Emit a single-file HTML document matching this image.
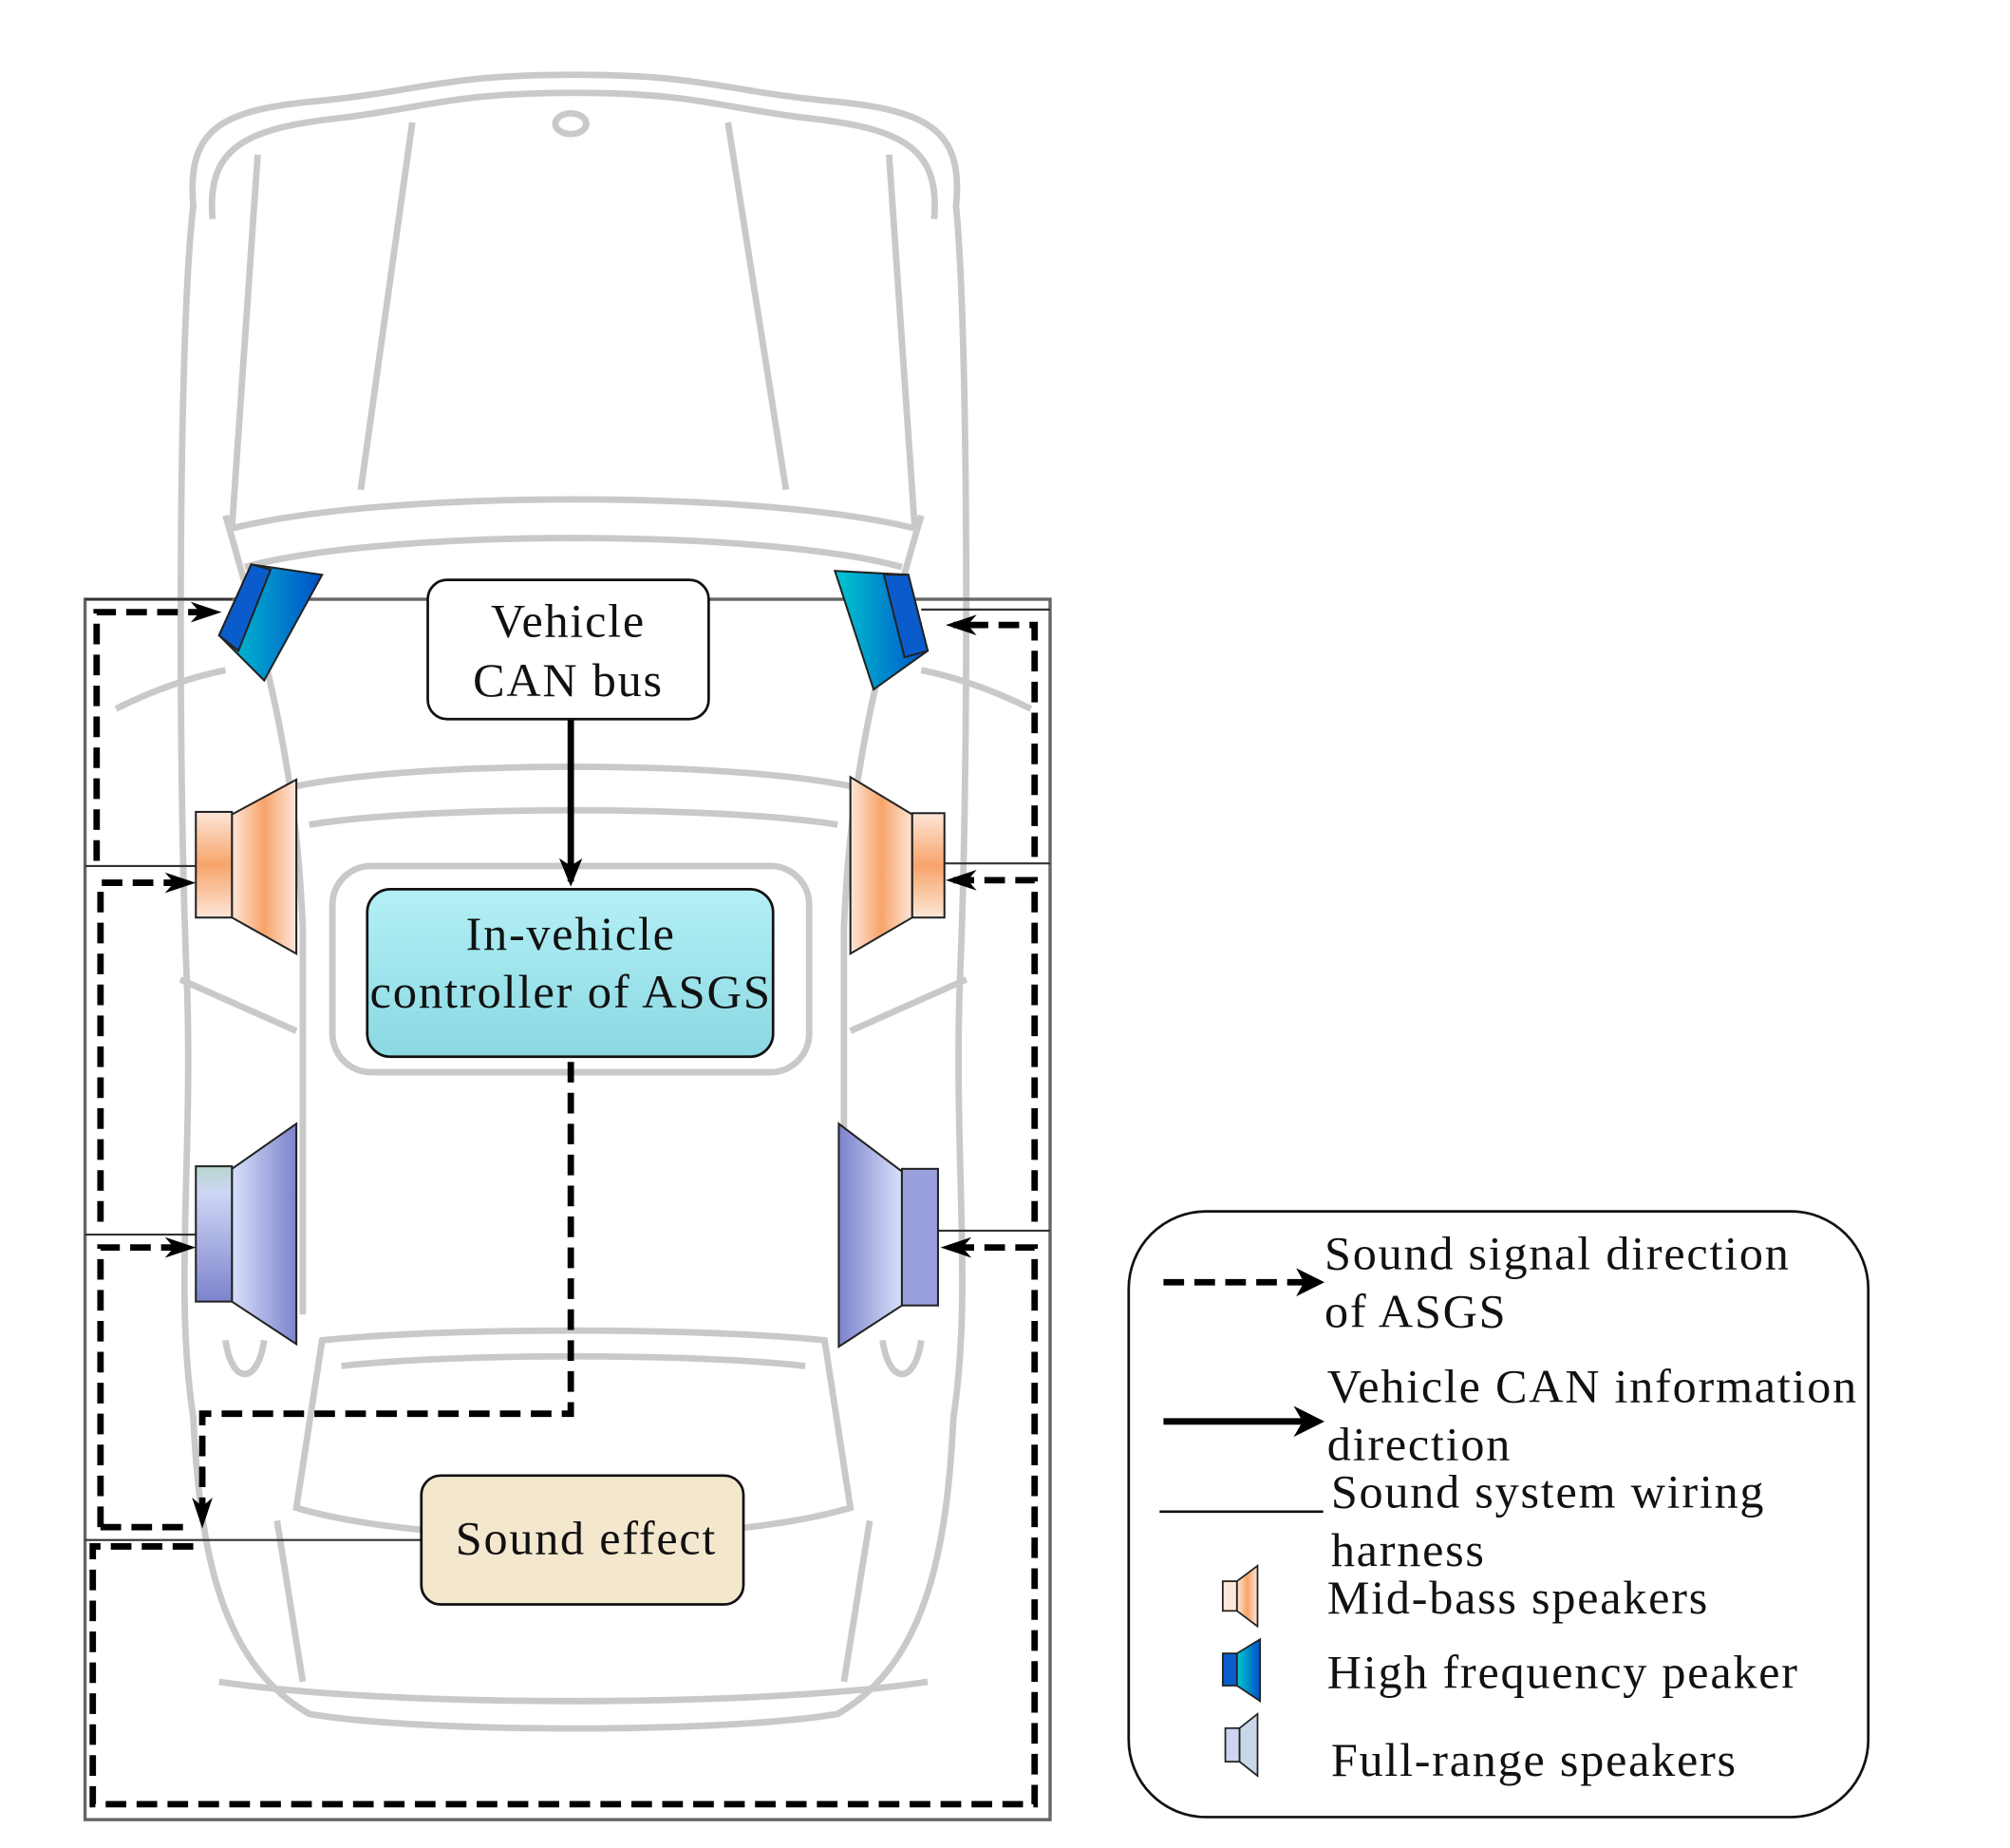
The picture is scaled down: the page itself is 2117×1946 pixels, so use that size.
<!DOCTYPE html>
<html><head><meta charset="utf-8"><style>
html,body{margin:0;padding:0;background:#fff;}
svg{display:block;}
text{font-family:"Liberation Serif",serif;fill:#111;letter-spacing:1.3px;}
</style></head><body>
<svg width="2117" height="1946" viewBox="0 0 1560 1434" xmlns="http://www.w3.org/2000/svg">
<defs>
<marker id="ah" markerWidth="24" markerHeight="18" refX="18" refY="9" orient="auto" markerUnits="userSpaceOnUse"><path d="M0,1 L24,9 L0,17 L7,9 Z" fill="#000"/></marker>
<marker id="ab" markerWidth="22" markerHeight="22" refX="18" refY="11" orient="auto" markerUnits="userSpaceOnUse"><path d="M0,2 L22,11 L0,20 L6,11 Z" fill="#000"/></marker>
<linearGradient id="org" x1="0" x2="1"><stop offset="0" stop-color="#fde6d8"/><stop offset="0.5" stop-color="#f7a46a"/><stop offset="1" stop-color="#fde6d8"/></linearGradient>
<linearGradient id="orgv" x1="0" y1="0" x2="0" y2="1"><stop offset="0" stop-color="#fde6d8"/><stop offset="0.5" stop-color="#f7a46a"/><stop offset="1" stop-color="#fde6d8"/></linearGradient>
<linearGradient id="blu" x1="0" x2="1"><stop offset="0" stop-color="#d8e0fb"/><stop offset="1" stop-color="#7d83cc"/></linearGradient>
<linearGradient id="blur" x1="1" x2="0"><stop offset="0" stop-color="#d8e0fb"/><stop offset="1" stop-color="#7d83cc"/></linearGradient>
<linearGradient id="bluv" x1="0" y1="0" x2="0" y2="1"><stop offset="0" stop-color="#b8d6cc"/><stop offset="0.2" stop-color="#cdd6f5"/><stop offset="1" stop-color="#7d83cc"/></linearGradient>
<linearGradient id="hf" x1="0" x2="1"><stop offset="0" stop-color="#00c8d0"/><stop offset="1" stop-color="#0050c8"/></linearGradient>
<linearGradient id="ctl" x1="0" y1="0" x2="0" y2="1"><stop offset="0" stop-color="#b4f0f6"/><stop offset="1" stop-color="#8ad8e2"/></linearGradient>
</defs>

<g fill="none" stroke="#c9c9c9" stroke-width="5">
<path d="M150,160 C145,100 170,85 250,78 C330,70 345,58 445,58 C545,58 560,70 640,78 C720,85 748,100 742,160 C752,260 752,600 745,760 C740,900 755,1000 740,1100 C735,1200 720,1290 650,1330 C560,1345 330,1345 240,1330 C170,1290 155,1200 150,1100 C135,1000 150,900 145,760 C138,600 138,260 150,160 Z"/>
<path d="M165,170 C160,115 190,100 260,92 C330,84 350,72 445,72 C540,72 560,84 630,92 C700,100 730,115 725,170"/>
<path d="M200,120 L180,410 M690,120 L710,410"/>
<path d="M320,95 L280,380 M565,95 L610,380"/>
<path d="M180,410 C300,380 590,380 710,410"/>
<path d="M190,440 C300,410 590,410 700,440"/>
<path d="M230,610 C330,590 560,590 660,610 M240,640 C330,625 560,625 650,640"/>
<path d="M175,400 C210,520 230,600 235,720 L235,1020 M715,400 C680,520 660,600 655,720 L655,1020"/>
<rect x="258" y="672" width="370" height="160" rx="30"/>
<path d="M250,1040 C350,1030 540,1030 640,1040 L660,1170 C560,1200 330,1200 230,1170 Z"/>
<path d="M265,1060 C350,1050 540,1050 625,1060"/>
<path d="M215,1180 L235,1305 M675,1180 L655,1305"/>
<path d="M170,1305 C300,1325 590,1325 720,1305"/>
<path d="M90,550 C120,535 150,525 175,520 M800,550 C770,535 740,525 715,520"/>
<path d="M140,760 L230,800 M750,760 L660,800"/>
<path d="M175,1040 C180,1075 200,1075 205,1040 M685,1040 C690,1075 710,1075 715,1040"/>
<ellipse cx="443" cy="96" rx="12" ry="8"/>
</g>

<g stroke="#333" stroke-width="1.6" fill="none">
<rect x="66" y="465" width="749" height="947" stroke="#666" stroke-width="2.5"/>
<line x1="66" y1="465" x2="180" y2="465"/>
<line x1="715" y1="473" x2="815" y2="473"/>
<line x1="66" y1="672" x2="152" y2="672"/>
<line x1="733" y1="670" x2="815" y2="670"/>
<line x1="66" y1="958" x2="152" y2="958"/>
<line x1="728" y1="955" x2="815" y2="955"/>
<line x1="66" y1="1195" x2="327" y2="1195"/>
</g>

<g stroke="#000" stroke-width="5" fill="none" stroke-dasharray="16,8">
<path d="M75,668 L75,475 L166,475" marker-end="url(#ah)"/>
<path d="M78,948 L78,685 L146,685" marker-end="url(#ah)"/>
<path d="M78,1185 L78,968 L146,968" marker-end="url(#ah)"/>
<path d="M78,1185 L150,1185"/>
<path d="M443,824 L443,1097 L157,1097 L157,1180" marker-end="url(#ah)"/>
<path d="M150,1200 L72,1200 L72,1400 L803,1400 L803,968 L736,968" marker-end="url(#ah)"/>
<path d="M803,948 L803,683 L740,683" marker-end="url(#ah)"/>
<path d="M803,665 L803,485 L740,485" marker-end="url(#ah)"/>
</g>

<line x1="443" y1="558" x2="443" y2="684" stroke="#000" stroke-width="5" marker-end="url(#ab)"/>

<g stroke="#222" stroke-width="1.5">
<polygon points="195,438 250,446 205,528 170,493" fill="url(#hf)"/>
<polygon points="195,438 210,442 185,505 170,493" fill="#0a5ccc"/>
<polygon points="648,443 705,446 720,505 678,535" fill="url(#hf)"/>
<polygon points="686,446 705,446 720,505 702,510" fill="#0a5ccc"/>
<polygon points="180,632 230,605 230,740 180,712" fill="url(#org)"/>
<rect x="152" y="630" width="28" height="82" fill="url(#orgv)"/>
<polygon points="708,632 660,603 660,740 708,712" fill="url(#org)"/>
<rect x="708" y="631" width="25" height="81" fill="url(#orgv)"/>
<polygon points="180,907 230,872 230,1043 180,1010" fill="url(#blu)"/>
<rect x="152" y="905" width="28" height="105" fill="url(#bluv)"/>
<polygon points="700,909 651,872 651,1045 700,1013" fill="url(#blur)"/>
<rect x="700" y="907" width="28" height="106" fill="#9aa0dc"/>
</g>

<rect x="332" y="450" width="218" height="108" rx="15" fill="#fff" stroke="#111" stroke-width="2"/>
<text x="441" y="494" font-size="37" text-anchor="middle">Vehicle</text>
<text x="441" y="540" font-size="37" text-anchor="middle">CAN bus</text>
<rect x="285" y="690" width="315" height="130" rx="18" fill="url(#ctl)" stroke="#111" stroke-width="2"/>
<text x="443" y="737" font-size="37" text-anchor="middle">In-vehicle</text>
<text x="443" y="782" font-size="37" text-anchor="middle" textLength="312" lengthAdjust="spacingAndGlyphs">controller of ASGS</text>
<rect x="327" y="1145" width="250" height="100" rx="15" fill="#f3e7ce" stroke="#111" stroke-width="2"/>
<text x="455" y="1206" font-size="37" text-anchor="middle">Sound effect</text>

<rect x="876" y="940" width="574" height="470" rx="60" fill="#fff" stroke="#111" stroke-width="2"/>
<line x1="903" y1="995" x2="1012" y2="995" stroke="#000" stroke-width="5" stroke-dasharray="16,8"/>
<path d="M1006,984 L1028,995 L1006,1006 L1012,995 Z" fill="#000"/>
<line x1="903" y1="1103" x2="1012" y2="1103" stroke="#000" stroke-width="5"/>
<path d="M1004,1091 L1028,1103 L1004,1115 L1011,1103 Z" fill="#000"/>
<line x1="900" y1="1173" x2="1027" y2="1173" stroke="#111" stroke-width="2"/>
<g font-size="37">
<text x="1028" y="985">Sound signal direction</text>
<text x="1028" y="1030">of ASGS</text>
<text x="1030" y="1088">Vehicle CAN information</text>
<text x="1030" y="1133">direction</text>
<text x="1033" y="1170">Sound system wiring</text>
<text x="1033" y="1215">harness</text>
<text x="1030" y="1252">Mid-bass speakers</text>
<text x="1030" y="1310">High frequency peaker</text>
<text x="1033" y="1378">Full-range speakers</text>
</g>
<g stroke="#222" stroke-width="1.3">
<polygon points="960,1227 976,1215 976,1262 960,1250" fill="url(#org)"/>
<rect x="949" y="1227" width="11" height="23" fill="#fde6d8"/>
<polygon points="960,1283 978,1272 978,1320 960,1308" fill="url(#hf)"/>
<rect x="949" y="1283" width="11" height="25" fill="#0a5ccc"/>
<polygon points="962,1341 976,1330 976,1378 962,1367" fill="#c9d8e8"/>
<rect x="951" y="1341" width="11" height="26" fill="#cfd4f2"/>
</g>
</svg>
</body></html>
